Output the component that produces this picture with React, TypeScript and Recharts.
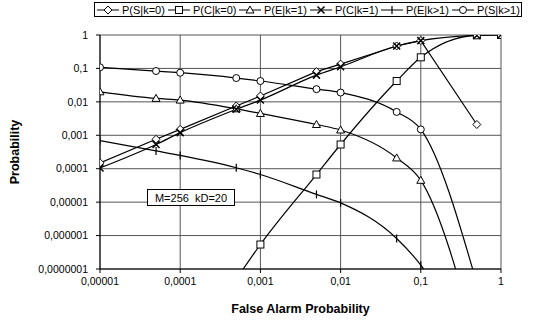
import { LineChart, Line, XAxis, YAxis, CartesianGrid, Legend } from 'recharts'

// false alarm probability (x) and the six curves
const falseAlarm = [0.00001, 0.00005, 0.0001, 0.0005, 0.001, 0.005, 0.01, 0.05, 0.1, 0.5, 1]
const pSk0 = [0.00015, 0.00076, 0.0015, 0.0075, 0.015, 0.08, 0.135, 0.47, 0.68, 0.0021, null]
const pCk0 = [null, null, null, 0.00000005, 0.00000054, 0.000067, 0.00053, 0.042, 0.215, 0.98, 1]
const pEk1 = [0.02, 0.0127, 0.0113, 0.0062, 0.0045, 0.0021, 0.00144, 0.00021, 0.000045, 0.0000000006, null]
const pCk1 = [0.000105, 0.00053, 0.0012, 0.006, 0.0113, 0.063, 0.112, 0.47, 0.68, 0.97, 1]
const pEkm = [0.00069, 0.00034, 0.00025, 0.000107, 0.000067, 0.000017, 0.0000095, 0.00000082, 0.00000013, 0.0000000001, null]
const pSkm = [0.108, 0.0836, 0.0744, 0.0516, 0.042, 0.024, 0.019, 0.005, 0.0015, 0.000000037, null]

const xTicks = [0.00001, 0.0001, 0.001, 0.01, 0.1, 1]
const yTicks = [0.0000001, 0.000001, 0.00001, 0.0001, 0.001, 0.01, 0.1, 1]

type Shape = 'diamond' | 'square' | 'triangle' | 'cross' | 'plus' | 'circle'

const series: { key: string; name: string; values: (number | null)[]; shape: Shape; curve: 'linear' | 'monotone' }[] = [
  { key: 'sk0', name: 'P(S|k=0)', values: pSk0, shape: 'diamond', curve: 'linear' },
  { key: 'ck0', name: 'P(C|k=0)', values: pCk0, shape: 'square', curve: 'monotone' },
  { key: 'ek1', name: 'P(E|k=1)', values: pEk1, shape: 'triangle', curve: 'monotone' },
  { key: 'ck1', name: 'P(C|k=1)', values: pCk1, shape: 'cross', curve: 'monotone' },
  { key: 'ekm', name: 'P(E|k>1)', values: pEkm, shape: 'plus', curve: 'monotone' },
  { key: 'skm', name: 'P(S|k>1)', values: pSkm, shape: 'circle', curve: 'monotone' },
]

const data = falseAlarm.map((x, i) => {
  const row: Record<string, number | null> = { x }
  series.forEach(s => { row[s.key] = s.values[i] })
  return row
})

const font = '"Liberation Sans", Arial, sans-serif'

const fmt = (v: number) =>
  v >= 1 ? '1' : v.toFixed(Math.round(-Math.log10(v))).replace('.', ',')

function Marker({ cx, cy, shape }: { cx?: number; cy?: number; shape: Shape }) {
  if (cx == null || cy == null || Number.isNaN(cy)) return <g />
  const r = 3.5
  const st = { fill: '#fff', stroke: '#000', strokeWidth: 1 }
  switch (shape) {
    case 'diamond':
      return <path d={`M${cx},${cy - 4}L${cx + 4},${cy}L${cx},${cy + 4}L${cx - 4},${cy}Z`} {...st} />
    case 'square':
      return <rect x={cx - r} y={cy - r} width={r * 2} height={r * 2} {...st} />
    case 'triangle':
      return <path d={`M${cx},${cy - 4}L${cx + 4},${cy + 3}L${cx - 4},${cy + 3}Z`} {...st} />
    case 'cross':
      return <path d={`M${cx - 3.5},${cy - 3.5}L${cx + 3.5},${cy + 3.5}M${cx - 3.5},${cy + 3.5}L${cx + 3.5},${cy - 3.5}`} stroke="#000" strokeWidth={1.5} />
    case 'plus':
      return <path d={`M${cx},${cy - 4}L${cx},${cy + 4}`} stroke="#000" strokeWidth={1.2} />
    default:
      return <circle cx={cx} cy={cy} r={r} {...st} />
  }
}

function LegendBox() {
  return (
    <div
      style={{
        display: 'flex',
        alignItems: 'center',
        height: 15,
        border: '1px solid #000',
        background: '#fff',
        fontFamily: font,
        fontSize: 11,
        color: '#000',
        boxSizing: 'border-box',
      }}
    >
      {series.map(s => (
        <div key={s.key} style={{ flex: 1, display: 'flex', alignItems: 'center', paddingLeft: 2 }}>
          <svg width={22} height={12} style={{ marginRight: 3 }}>
            <line x1={0} y1={6} x2={22} y2={6} stroke="#000" strokeWidth={1} />
            <Marker cx={11} cy={6} shape={s.shape} />
          </svg>
          <span style={{ whiteSpace: 'nowrap' }}>{s.name}</span>
        </div>
      ))}
    </div>
  )
}

export default function App() {
  return (
    <div style={{ position: 'absolute', left: 0, top: 0, width: 534, height: 320, background: '#fff' }}>
      <LineChart width={534} height={320} data={data} margin={{ top: 35, right: 33, bottom: 0, left: 0 }}>
        <CartesianGrid stroke="#555" strokeWidth={1} />
        <XAxis
          dataKey="x"
          type="number"
          scale="log"
          domain={[0.00001, 1]}
          ticks={xTicks}
          allowDataOverflow
          tickFormatter={fmt}
          height={51}
          tickSize={4}
          tickMargin={5}
          stroke="#000"
          tick={{ fill: '#000', fontSize: 10.5, fontFamily: font }}
          label={{
            value: 'False Alarm Probability',
            position: 'insideBottom',
            offset: 7,
            style: { fill: '#000', fontSize: 12.5, fontWeight: 'bold', fontFamily: font },
          }}
        />
        <YAxis
          type="number"
          scale="log"
          domain={[0.0000001, 1]}
          ticks={yTicks}
          allowDataOverflow
          tickFormatter={fmt}
          width={100}
          tickSize={4}
          tickMargin={8}
          stroke="#000"
          tick={{ fill: '#000', fontSize: 10.5, fontFamily: font }}
          label={{
            content: ({ viewBox }: any) => {
              const cy = viewBox.y + viewBox.height / 2
              return (
                <text
                  x={16}
                  y={cy}
                  transform={`rotate(-90 16 ${cy})`}
                  textAnchor="middle"
                  dominantBaseline="middle"
                  style={{ fill: '#000', fontSize: 12.5, fontWeight: 'bold', fontFamily: font }}
                >
                  Probability
                </text>
              )
            },
          }}
        />
        <Legend
          layout="vertical"
          verticalAlign="middle"
          align="center"
          wrapperStyle={{ top: 2, left: 94, width: 428 }}
          content={() => <LegendBox />}
        />
        {series.map(s => (
          <Line
            key={s.key}
            dataKey={s.key}
            name={s.name}
            type={s.curve}
            stroke="#000"
            strokeWidth={1.2}
            isAnimationActive={false}
            connectNulls
            dot={(p: any) => <Marker key={`${s.key}-${p.index}`} cx={p.cx} cy={p.cy} shape={s.shape} />}
            activeDot={false}
          />
        ))}
      </LineChart>
      <div
        style={{
          position: 'absolute',
          left: 147,
          top: 189,
          width: 88,
          height: 17,
          border: '1px solid #000',
          background: '#fff',
          fontFamily: font,
          fontSize: 11,
          lineHeight: '17px',
          textAlign: 'center',
          whiteSpace: 'pre',
          boxSizing: 'border-box',
        }}
      >
        {'M=256  kD=20'}
      </div>
    </div>
  )
}
